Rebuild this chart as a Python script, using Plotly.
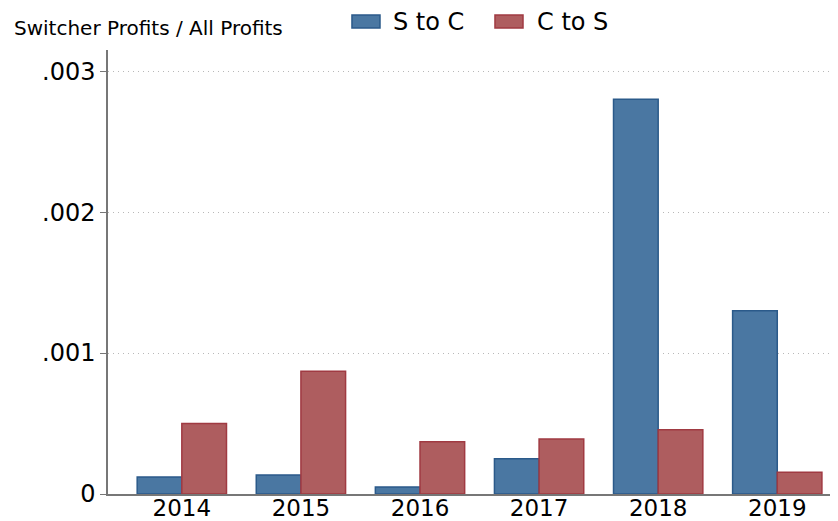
import plotly.graph_objects as go

years = ["2014", "2015", "2016", "2017", "2018", "2019"]
s_to_c = [0.00012, 0.000135, 0.00005, 0.00025, 0.0028, 0.0013]
c_to_s = [0.0005, 0.00087, 0.00037, 0.00039, 0.000455, 0.000155]
y_ticks = [0, 0.001, 0.002, 0.003]
y_labels = ["0", ".001", ".002", ".003"]
series_names = ["S to C", "C to S"]
fills = ["#4A77A2", "#AE5D5F"]
edges = ["#2B5A8A", "#A03A42"]

fig = go.Figure()
for name, vals, fc, ec in zip(series_names, [s_to_c, c_to_s], fills, edges):
    fig.add_trace(go.Bar(x=years, y=vals, name=name, showlegend=False,
                         marker=dict(color=fc, line=dict(color=ec, width=1.5))))

# custom legend (wide rectangles like the reference)
shapes = []
annotations = []
leg_x = [(0.3342, 0.3726, 0.3877), (0.5301, 0.5685, 0.5849)]
for (x0, x1, tx), name, fc, ec in zip(leg_x, series_names, fills, edges):
    shapes.append(dict(type="rect", xref="paper", yref="paper", x0=x0, x1=x1,
                       y0=1.0495, y1=1.0788, fillcolor=fc, line=dict(color=ec, width=1.5)))
    annotations.append(dict(text=name, xref="paper", yref="paper", x=tx, y=1.0631,
                            xanchor="left", yanchor="middle", showarrow=False,
                            font=dict(size=24)))
annotations.append(dict(text="Switcher Profits / All Profits", xref="paper", yref="paper",
                        x=-0.1315, y=1.0495, xanchor="left", yanchor="middle",
                        showarrow=False, font=dict(size=20)))

# page body has an 8px margin, so the figure is sized/offset to compensate
fig.update_layout(
    width=830, height=513,
    margin=dict(l=100, r=0, t=42, b=27, autoexpand=False),
    plot_bgcolor="white", paper_bgcolor="white",
    font=dict(family="DejaVu Sans", color="black", size=24),
    barmode="group", bargap=0.25, bargroupgap=0,
    showlegend=False,
    shapes=shapes, annotations=annotations,
)
fig.update_xaxes(range=[-0.62, 5.51], showline=True, linecolor="#777777", linewidth=1.5,
                 ticks="", showgrid=False, tickfont=dict(size=23), automargin=False,
                 ticklabelstandoff=-7)
fig.update_yaxes(range=[0, 0.00315], tickvals=y_ticks, ticktext=y_labels,
                 showline=True, linecolor="#777777", linewidth=1.5,
                 ticks="outside", ticklen=6, tickcolor="#777777",
                 showgrid=True, gridcolor="#b8b8b8", griddash="1px,4px", gridwidth=1,
                 zeroline=False, tickfont=dict(size=24), automargin=False)
fig.write_html("out.html")
